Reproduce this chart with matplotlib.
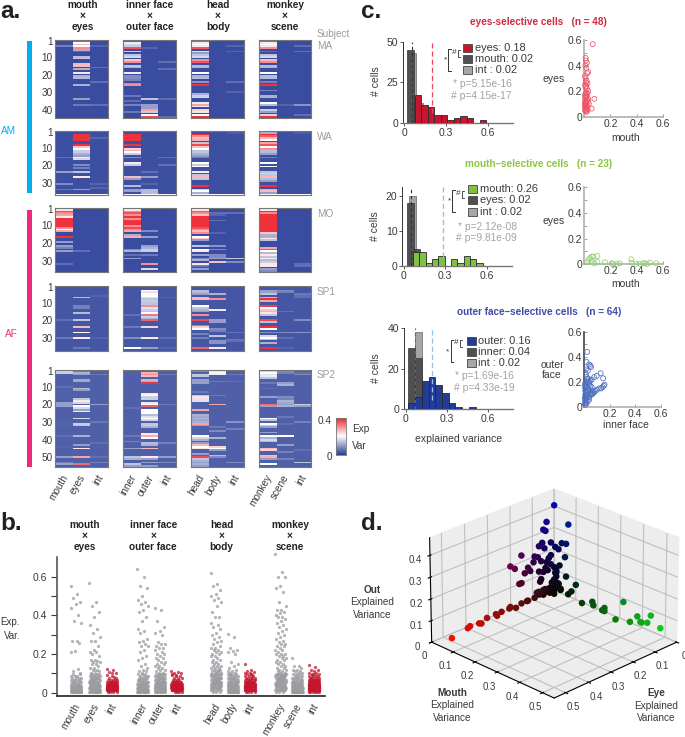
# Recreated multi-panel figure: a. heatmaps, b. strip plots, c. histograms + scatters, d. 3D scatter
import matplotlib
matplotlib.use('Agg')
import matplotlib.pyplot as plt
import numpy as np
from matplotlib.colors import LinearSegmentedColormap
from mpl_toolkits.mplot3d import Axes3D  # noqa: F401

plt.rcParams['font.family'] = ['Liberation Sans', 'DejaVu Sans']

W, H = 685, 737

# ---- panel a: explained variance per row, only rows above background are listed ----
# column order: mouth eyes int | inner outer int | head body int | monkey scene int
ma_cells = [
    {4: .07},
    {1: .36, 2: .2, 3: .26, 4: .2, 5: .3, 6: .12, 7: .38, 10: .13, 11: .14, 14: .26, 15: .26, 17: .12, 19: .22, 21: .12, 22: .13, 26: .12, 34: .1, 37: .06},
    {4: .04, 16: .05, 24: .05, 37: .05},
    {1: .38, 2: .18, 3: .16, 4: .15, 5: .35, 7: .26, 9: .14, 10: .16, 12: .25, 13: .3, 15: .14, 16: .12, 19: .22, 21: .08, 22: .08, 23: .07, 25: .1, 26: .3, 32: .06, 35: .05, 37: .07, 41: .06},
    {5: .04, 34: .14, 37: .1, 38: .1, 39: .1, 40: .28, 41: .15, 43: .2, 44: .36},
    {13: .05, 17: .05, 34: .05, 44: .05},
    {1: .36, 2: .22, 3: .2, 4: .22, 5: .35, 7: .24, 8: .1, 9: .14, 10: .16, 12: .3, 13: .35, 15: .13, 16: .12, 19: .2, 21: .12, 22: .13, 24: .09, 26: .38, 31: .12, 32: .15, 33: .16, 36: .18, 37: .28, 38: .18, 40: .24, 41: .18, 43: .2, 44: .38},
    {},
    {4: .04, 7: .04, 24: .05, 30: .04},
    {1: .36, 2: .22, 3: .2, 4: .22, 5: .3, 7: .38, 9: .14, 10: .16, 12: .26, 13: .3, 15: .13, 16: .12, 19: .2, 21: .13, 22: .13, 24: .07, 26: .38, 29: .07, 32: .12, 33: .12, 36: .2, 37: .13, 40: .15, 41: .1, 43: .16, 44: .38},
    {37: .04},
    {4: .05, 7: .05, 37: .09, 43: .05},
]
wa_cells = [
    {16: .05, 24: .1, 31: .08, 34: .06},
    {1: .14, 3: .38, 4: .38, 5: .38, 6: .38, 9: .38, 10: .25, 11: .2, 12: .15, 13: .15, 14: .12, 15: .1, 16: .22, 17: .16, 20: .08, 22: .07, 24: .14, 27: .22, 34: .1},
    {5: .04, 31: .04, 33: .04},
    {1: .14, 3: .38, 4: .38, 5: .38, 6: .38, 9: .38, 11: .24, 12: .27, 13: .2, 14: .15, 16: .08, 19: .22, 20: .15, 27: .26, 28: .1, 32: .13, 34: .1, 35: .1},
    {24: .05, 27: .1, 31: .04, 34: .13, 35: .13, 36: .13},
    {16: .05, 20: .05},
    {1: .14, 3: .38, 4: .3, 5: .26, 6: .27, 8: .14, 9: .36, 10: .25, 11: .2, 12: .14, 13: .14, 14: .12, 15: .1, 16: .36, 19: .2, 20: .15, 21: .2, 24: .22, 26: .14, 27: .26, 28: .14, 32: .38, 34: .15, 35: .2, 36: .12},
    {},
    {2: .03},
    {1: .12, 2: .12, 3: .38, 4: .34, 5: .26, 6: .2, 8: .28, 9: .35, 10: .2, 11: .3, 12: .14, 13: .13, 14: .1, 16: .36, 19: .2, 21: .2, 24: .14, 25: .25, 26: .14, 27: .26, 28: .13, 29: .1, 32: .38, 34: .13, 35: .26, 36: .1},
    {},
    {2: .03},
]
mo_cells = [
    {1: .3, 2: .22, 3: .36, 4: .3, 5: .28, 6: .22, 7: .38, 8: .38, 9: .38, 10: .38, 11: .38, 12: .3, 13: .2, 14: .28, 17: .38, 20: .1, 22: .1, 23: .07, 25: .1, 32: .05},
    {25: .05},
    {},
    {1: .3, 2: .22, 3: .3, 4: .35, 5: .3, 6: .38, 7: .3, 8: .37, 9: .38, 10: .38, 11: .3, 12: .36, 13: .3, 14: .28, 16: .12, 17: .27, 24: .08, 25: .12, 27: .05, 29: .1},
    {14: .08, 17: .1, 22: .1, 23: .12, 24: .15, 25: .15, 27: .06, 32: .3, 35: .16},
    {},
    {1: .3, 2: .22, 3: .35, 4: .3, 5: .25, 6: .38, 7: .38, 8: .38, 9: .38, 10: .38, 11: .38, 12: .35, 13: .3, 14: .26, 15: .3, 17: .2, 18: .25, 19: .1, 22: .14, 24: .2, 25: .22, 27: .1, 29: .08, 30: .12, 32: .22, 33: .06, 35: .1},
    {4: .05, 5: .04, 8: .05, 15: .04, 22: .09, 24: .08, 27: .08, 28: .08, 29: .1, 31: .26},
    {4: .05, 29: .14, 31: .08},
    {1: .28, 2: .22, 3: .38, 4: .3, 5: .38, 6: .38, 7: .38, 8: .38, 9: .38, 10: .38, 11: .38, 12: .38, 13: .38, 14: .38, 15: .25, 16: .12, 17: .12, 18: .22, 19: .14, 23: .28, 24: .35, 25: .2, 26: .13, 27: .22, 28: .14, 29: .22, 30: .13, 31: .15, 32: .22, 33: .22, 35: .1, 36: .08},
    {},
    {32: .05, 33: .05},
]
sp1_cells = [
    {20: .05, 30: .06},
    {7: .13, 12: .07, 13: .07, 16: .13, 20: .14, 24: .26, 27: .2, 30: .22, 36: .06},
    {6: .04, 30: .04},
    {17: .05, 24: .06, 30: .08, 36: .2},
    {3: .2, 4: .23, 5: .2, 6: .2, 7: .17, 8: .14, 9: .15, 10: .14, 11: .14, 12: .3, 13: .17, 14: .15, 15: .14, 16: .2, 17: .32, 18: .15, 19: .12, 20: .34, 24: .24, 30: .22, 36: .1},
    {7: .04, 30: .05, 36: .04},
    {3: .13, 4: .13, 5: .1, 7: .26, 8: .26, 12: .2, 13: .14, 14: .12, 15: .1, 17: .3, 20: .36, 23: .08, 24: .24, 25: .2, 28: .07, 30: .07, 36: .34},
    {5: .12, 8: .3, 14: .18, 20: .1, 21: .1, 25: .08, 26: .07, 29: .14, 32: .09, 33: .09, 36: .22},
    {27: .05, 31: .06, 32: .05},
    {3: .1, 4: .1, 5: .14, 7: .13, 8: .38, 9: .28, 12: .37, 13: .2, 14: .25, 15: .14, 16: .22, 17: .14, 20: .36, 21: .14, 24: .38, 25: .2, 27: .08, 29: .16, 30: .2, 31: .14, 33: .12, 36: .38},
    {3: .08, 4: .07, 15: .05, 27: .08, 30: .05, 36: .04},
    {5: .06, 6: .05, 7: .05, 20: .08, 27: .09},
]
sp2_cells = [
    {1: .25, 2: .15, 10: .05, 15: .04, 19: .1, 20: .1, 21: .1, 31: .04, 38: .05, 44: .04, 50: .1, 53: .07, 54: .1},
    {1: .06, 2: .12, 3: .1, 6: .11, 7: .11, 11: .13, 12: .1, 17: .14, 18: .22, 19: .16, 21: .2, 22: .16, 23: .1, 24: .18, 28: .16, 31: .15, 32: .14, 38: .12, 43: .1, 45: .22, 50: .28, 54: .33},
    {3: .06, 20: .1, 30: .06, 42: .05, 50: .05, 53: .07},
    {22: .05, 38: .06, 41: .07, 45: .1, 50: .14, 51: .12, 54: .14, 55: .1},
    {1: .38, 2: .27, 3: .3, 4: .26, 6: .13, 7: .12, 8: .38, 14: .22, 15: .2, 16: .15, 17: .15, 19: .18, 20: .2, 21: .34, 23: .2, 24: .2, 25: .2, 26: .13, 27: .17, 28: .2, 29: .16, 31: .14, 32: .15, 33: .12, 37: .22, 38: .27, 39: .2, 42: .13, 43: .12, 45: .26, 50: .22, 51: .1, 53: .1, 55: .1},
    {3: .06, 20: .06, 42: .07, 50: .1, 53: .08},
    {1: .08, 3: .15, 4: .14, 6: .1, 7: .1, 8: .1, 13: .06, 15: .14, 16: .18, 17: .23, 18: .17, 23: .28, 26: .12, 27: .11, 28: .12, 29: .11, 30: .12, 31: .28, 32: .1, 38: .2, 39: .16, 40: .12, 42: .1, 43: .26, 44: .2, 45: .22, 48: .1, 50: .36, 51: .14, 52: .12, 53: .1, 54: .12, 55: .1},
    {1: .22, 2: .21, 3: .18, 7: .06, 15: .06, 20: .28, 33: .06, 35: .08, 39: .12, 44: .24, 45: .2, 46: .1, 49: .28, 50: .08},
    {3: .06, 7: .05, 30: .09, 34: .07, 53: .08},
    {1: .25, 2: .2, 3: .17, 4: .18, 5: .14, 8: .06, 11: .05, 16: .1, 20: .33, 21: .1, 28: .2, 29: .14, 31: .2, 32: .15, 33: .1, 36: .1, 38: .2, 39: .12, 40: .16, 41: .13, 45: .26, 46: .24, 49: .15, 50: .27, 51: .1, 54: .2},
    {1: .08, 2: .07, 8: .1, 9: .12, 16: .08, 17: .07, 18: .12, 19: .11, 20: .1, 21: .12, 27: .06, 31: .05, 38: .2, 43: .1, 47: .07, 51: .07},
    {2: .05, 3: .08, 20: .15, 21: .1, 30: .07, 46: .05, 53: .14},
]
subject_names = ['MA', 'WA', 'MO', 'SP1', 'SP2']
subject_rows = [44, 36, 36, 37, 55]
subject_background = [.015, .018, .015, .025, .035]
subject_cells = [ma_cells, wa_cells, mo_cells, sp1_cells, sp2_cells]
subject_ticks = [[1, 10, 20, 30, 40], [1, 10, 20, 30], [1, 10, 20, 30],
                 [1, 10, 20, 30], [1, 10, 20, 30, 40, 50]]
group_titles = ['mouth\n×\neyes', 'inner face\n×\nouter face', 'head\n×\nbody', 'monkey\n×\nscene']
column_labels = ['mouth', 'eyes', 'int', 'inner', 'outer', 'int',
                 'head', 'body', 'int', 'monkey', 'scene', 'int']

# ---- panel b: tall points read one by one, the dense bottom read as counts per 0.01 bin ----
low_bins = [.005, .015, .025, .035, .045, .055, .065, .075, .085, .095]
strip_tall = [
    [.55, .51, .49, .47, .46, .44, .40, .37, .36, .27, .27, .255, .215, .21, .125, .11, .10],
    [.565, .47, .45, .42, .39, .35, .33, .31, .29, .27, .265, .24, .22, .21, .21, .2, .19, .17, .17, .165, .16, .16, .15, .15, .14, .13, .13, .12, .12, .11, .11, .10],
    [.125, .12, .105, .10, .10, .09, .08],
    [.64, .60, .55, .54, .50, .48, .47, .46, .45, .43, .42, .39, .37, .33, .32, .31, .28, .27, .26, .25, .24, .24, .22, .21, .19, .18, .17, .15, .14, .13, .12, .11, .11, .10],
    [.44, .43, .37, .34, .32, .31, .30, .26, .25, .25, .24, .23, .23, .22, .21, .20, .2, .19, .18, .18, .17, .16, .16, .15, .15, .14, .14, .13, .13, .12, .12, .11, .1, .1],
    [.11, .105, .10, .10, .09, .09],
    [.62, .56, .55, .53, .51, .50, .49, .48, .47, .45, .42, .39, .39, .36, .35, .34, .33, .31, .3, .29, .28, .27, .26, .25, .24, .23, .23, .22, .22, .21, .21, .2, .2, .19, .19, .18, .17, .17, .16, .16, .15, .15, .14, .14, .14, .13, .13, .13, .12, .12, .12, .11, .11, .11, .10, .10, .10],
    [.305, .29, .23, .22, .215, .21, .2, .16, .15, .14, .13, .12, .11, .11, .10, .10],
    [.15, .115, .11, .105, .10, .10, .09],
    [.72, .625, .6, .6, .55, .54, .52, .47, .45, .43, .43, .42, .41, .40, .39, .39, .38, .37, .36, .35, .34, .33, .32, .31, .3, .29, .28, .27, .26, .25, .25, .24, .24, .23, .22, .22, .21, .2, .2, .2, .19, .19, .18, .18, .17, .17, .16, .16, .15, .15, .14, .14, .13, .13, .12, .12, .11, .11, .1, .1],
    [.18, .14, .14, .13, .12, .12, .11, .11, .1, .1],
    [.145, .135, .12, .12, .11, .1, .1, .09],
]
strip_low_counts = [
    [14, 16, 12, 8, 6, 6, 5, 4, 3, 2],
    [12, 14, 12, 10, 8, 8, 7, 7, 6, 5],
    [4, 22, 28, 22, 14, 10, 5, 2, 1, 0],
    [12, 16, 12, 10, 8, 7, 6, 5, 4, 3],
    [10, 14, 14, 10, 9, 8, 7, 6, 6, 5],
    [4, 20, 30, 24, 14, 8, 4, 3, 2, 1],
    [3, 6, 8, 8, 8, 8, 7, 7, 6, 6],
    [14, 14, 12, 10, 8, 8, 6, 6, 5, 4],
    [4, 20, 28, 24, 16, 10, 7, 5, 3, 2],
    [3, 8, 8, 8, 8, 8, 8, 7, 7, 7],
    [18, 18, 16, 12, 10, 8, 6, 5, 4, 3],
    [6, 30, 40, 32, 22, 14, 10, 6, 4, 3],
]

# ---- panel c: histograms ----
eyes_red_counts = [0, 17, 11, 10, 5, 5, 1.5, 3, 4, 3, 0, 1.5]
eyes_dark_counts = [45, 16]
eyes_light_counts = [43, 12]
mouth_green_counts = [0, 4, 4, 1, 2, 3, 0, 2, 1, 3, 2, 1]
mouth_dark_counts = [18, 5]
mouth_light_counts = [20, 2]
outer_blue_counts = [3, 6, 14, 16, 12, 8, 3, 1, 0, 1]
outer_dark_counts = [30, 25]
outer_light_counts = [38, 4]

# ---- panel c: scatters ----
eyes_cell_x = [.064, .077, .056, .03, .01, .012, .02, .008, .015, .022, .005, .01, .018, .012, .025, .006, .014, .009, .02, .03, .016, .008, .024, .012, .004, .018, .01, .028, .006, .02, .014, .03, .008, .012, .035, .005, .01, .018, .022, .004, .008, .016, .012, .026, .006, .01, .02, .014]
eyes_cell_y = [.567, .14, .063, .35, .46, .44, .42, .4, .38, .34, .32, .3, .28, .27, .26, .25, .24, .23, .22, .2, .19, .18, .18, .17, .16, .16, .15, .14, .13, .13, .12, .12, .11, .11, .1, .1, .09, .09, .08, .08, .07, .07, .06, .06, .05, .05, .04, .04]
mouth_cell_x = [.023, .033, .043, .056, .069, .1, .077, .158, .21, .248, .27, .36, .363, .396, .427, .452, .465, .503, .55, .056, .1, .22, .48]
mouth_cell_y = [.016, .034, .047, .06, .06, .065, .008, .016, .008, .003, .008, .039, .013, .003, .003, .008, .008, .013, .008, .026, .02, .003, .003]
outer_cell_x = [.025, .02, .04, .05, .055, .015, .03, .13, .15, .16, .155, .145, .135, .12, .1, .09, .1, .08, .06, .05, .04, .03, .02, .01, .015, .02, .03, .035, .04, .05, .06, .07, .08, .07, .06, .05, .04, .03, .02, .01, .015, .02, .03, .025, .015, .01, .02, .03, .04, .05, .06, .01, .015, .02, .005, .01, .015, .005, .01, .02, .03, .04, .01, .005]
outer_cell_y = [.44, .36, .34, .33, .32, .3, .29, .27, .23, .18, .17, .16, .15, .15, .14, .13, .25, .24, .22, .21, .2, .2, .19, .19, .26, .24, .23, .22, .18, .17, .16, .13, .12, .11, .1, .1, .14, .15, .17, .18, .16, .14, .13, .12, .11, .1, .09, .08, .08, .12, .11, .08, .07, .06, .07, .05, .04, .03, .02, .03, .05, .06, .13, .16]

# ---- panel d: eye, mouth, out explained variance per cell ----
eye_values = [.49, .42, .41, .37, .36, .335, .295, .29, .27, .235, .23, .205, .18, .155, .15, .12, .11, .10, .09, .08, .07,
              .02, .02, .02, .02, .02, .02, .02, .02, .02, .02, .02, .02, .02, .02,
              .02, 0, .035, .05, .04, .07, .055, .045, .015, 0, 0, 0, 0, 0, .09, .075, .095, .06, .015, .025, .035, 0, 0, 0, 0, 0, 0, 0,
              .15, .2, .18, .135, .12, .11, .16, .15, .06, .065, .07, .05, .03, .04,
              .06, .05, .04, .03, .02, .01, .01, .02, .03, .04, .05, .06, .07, .08, .01, .02, .01, 0, .01, .02, .01, 0, .015, .025, .03, .01, .02]
mouth_values = [.03, .03, .03, .03, .03, .03, .03, .03, .03, .03, .03, .03, .03, .03, .03, .03, .03, .03, .03, .03, .03,
                .148, .195, .2, .24, .25, .25, .30, .334, .364, .396, .41, .415, .44, .455,
                .497, .065, 0, 0, 0, 0, 0, 0, 0, .035, .055, .005, .02, .05, 0, 0, 0, 0, 0, 0, 0, .025, .055, .1, .08, .065, .03, .02,
                0, 0, 0, 0, 0, 0, 0, 0, 0, 0, 0, 0, 0, 0,
                .01, .01, .02, .01, .02, .03, .01, .01, .02, .005, .01, .02, .005, .01, .04, .03, .02, .01, .03, .02, .01, .01, .02, .01, .03, .005, .02]
out_values = [.005, .02, .025, .02, .015, .03, .03, .02, .03, .03, .035, .02, .03, .03, .03, .03, .05, .05, .04, .05, .05,
              .013, .04, .025, .02, .02, .035, .003, .1, .02, .06, .04, .04, .05, .09,
              .05, .34, .34, .31, .3, .24, .25, .22, .235, .24, .245, .21, .205, .18, .2, .19, .175, .165, .175, .165, .15, .13, .09, .07, .03, .01, .015, .04,
              .23, .2, .18, .14, .16, .14, .1, .1, .08, .07, .12, .11, .11, .125,
              .01, .02, .015, .03, .02, .03, .05, .05, .06, .02, .03, .04, .015, .02, .03, .06, .08, .1, .05, .07, .12, .09, .1, .14, .01, .03, .42]


fig = plt.figure(figsize=(W / 100, H / 100), dpi=100)


def px_axes(x0, y0, x1, y1, **kw):
    return fig.add_axes([x0 / W, 1 - y1 / H, (x1 - x0) / W, (y1 - y0) / H], **kw)


# overlay in pixel coordinates for text and decoration
ov = fig.add_axes([0, 0, 1, 1], zorder=10)
ov.set_xlim(0, W)
ov.set_ylim(H, 0)
ov.axis('off')
ov.patch.set_alpha(0)

DARK = '#3a3a3a'
GRAY = '#8e9094'

# panel letters
for letter, x, y in [('a.', 0, 17.5), ('b.', 0, 530.5), ('c.', 361, 17.5), ('d.', 361, 530.5)]:
    ov.text(x, y, letter, fontsize=17.5, fontweight='bold', color='#222222', va='baseline')

# ---------------- panel a ----------------
cmap = LinearSegmentedColormap.from_list('expvar', ['#2b3f98', '#ffffff', '#ee1c25'])
group_left = [55, 123, 191, 258.5]
column_w = 52.5 / 3
subject_y = [(40.5, 118), (131, 194.5), (208.5, 272.5), (286, 350.7), (370, 467)]
subject_label_y = [46, 136.7, 214.3, 291.7, 375]

for s, (y0, y1) in enumerate(subject_y):
    nrows = subject_rows[s]
    for g, gx in enumerate(group_left):
        mat = np.full((nrows, 3), subject_background[s])
        for c in range(3):
            for row, val in subject_cells[s][g * 3 + c].items():
                mat[row - 1, c] = val
        ax = px_axes(gx, y0, gx + 52.5, y1)
        ax.imshow(mat, cmap=cmap, vmin=0, vmax=.4, aspect='auto', interpolation='nearest')
        ax.set_xticks([])
        if g == 0:
            ax.set_yticks([t - 1 for t in subject_ticks[s]])
            ax.set_yticklabels(subject_ticks[s], fontsize=7.2, color=DARK)
            ax.tick_params(axis='y', length=0, pad=1.5)
        else:
            ax.set_yticks([])
        for sp in ax.spines.values():
            sp.set_color('#777777')
            sp.set_linewidth(.8)
    ov.text(317, subject_label_y[s], subject_names[s], fontsize=7.2, color='#9a9a9a', va='center')
ov.text(316.5, 34.3, 'Subject', fontsize=7.2, color='#9a9a9a', va='center')

for g, cx in enumerate([83, 150, 218, 285]):
    for line, yy in zip(group_titles[g].split('\n'), [4.9, 15.7, 26.7]):
        ov.text(cx, yy, line, fontsize=7.2, fontweight='bold', color='#222222', ha='center', va='center')

for g, gx in enumerate(group_left):
    for c in range(3):
        ov.text(gx + column_w * (c + .5) + 2, 475.5, column_labels[g * 3 + c], rotation=60, fontsize=7.2,
                color=DARK, ha='right', va='center', rotation_mode='anchor')

ov.add_patch(plt.Rectangle((26.7, 40.7), 5.6, 152.6, color='#00aeef', lw=0))
ov.add_patch(plt.Rectangle((26.7, 210), 5.6, 257.3, color='#ee2a7b', lw=0))
ov.text(9, 130.7, 'AM', color='#00aeef', fontsize=7.2, ha='center', va='center')
ov.text(11, 334, 'AF', color='#ee2a7b', fontsize=7.2, ha='center', va='center')

cax = px_axes(336, 417.7, 346, 455.3)
cax.imshow(np.linspace(1, 0, 64)[:, None], cmap=cmap, aspect='auto', vmin=0, vmax=1)
cax.set_xticks([])
cax.set_yticks([])
for sp in cax.spines.values():
    sp.set_color('#777777')
    sp.set_linewidth(.6)
ov.text(332, 420.7, '0.4', fontsize=7.2, color=DARK, ha='right', va='center')
ov.text(332, 457, '0', fontsize=7.2, color=DARK, ha='right', va='center')
ov.text(352, 429.3, 'Exp', fontsize=7.2, color=DARK, va='center')
ov.text(352, 446, 'Var', fontsize=7.2, color=DARK, va='center')

# ---------------- panel b ----------------
strip_x = [76, 94.7, 112, 142.7, 160, 176.7, 216, 233, 250, 280.7, 297.3, 314]
strip_colors = ['#9a9ca0', '#9a9ca0', '#c4162f'] * 4
bx = px_axes(57, 557, 325, 696)
bx.set_xlim(57, 325)
bx.set_ylim((692.7 - 696) / 193.3, (692.7 - 557) / 193.3)
for i, cx in enumerate(strip_x):
    vals = np.concatenate([strip_tall[i], np.repeat(low_bins, strip_low_counts[i])])
    # spread within the strip, no data in it
    spread = ((np.arange(len(vals)) * .618034) % 1 - .5) * 11
    bx.scatter(cx + spread, vals, s=5.5, color=strip_colors[i], alpha=.75, lw=0, clip_on=False)
bx.set_yticks([0, .2, .4, .6])
bx.set_yticks([.1, .3, .5], minor=True)
bx.set_yticklabels(['0', '0.2', '0.4', '0.6'], fontsize=7.5, color=DARK)
bx.tick_params(axis='y', which='both', length=4, width=.8, color=DARK, pad=3)
bx.set_xticks([])
bx.spines[['top', 'right']].set_visible(False)
bx.spines['left'].set_color('#555555')
bx.spines['left'].set_linewidth(1.2)
bx.spines['bottom'].set_color('#222222')
bx.spines['bottom'].set_linewidth(1.2)
for g, cx in enumerate([85, 153.3, 221.7, 290]):
    for line, yy in zip(group_titles[g].split('\n'), [525, 536, 546.7]):
        ov.text(cx, yy, line, fontsize=7.2, fontweight='bold', color='#222222', ha='center', va='center')
for i, cx in enumerate(strip_x):
    ov.text(cx + 2, 704, column_labels[i], rotation=60, fontsize=7.2, color=DARK,
            ha='right', va='center', rotation_mode='anchor')
ov.text(20, 621.7, 'Exp.', fontsize=7, color=DARK, ha='right', va='center')
ov.text(20, 636, 'Var.', fontsize=7, color=DARK, ha='right', va='center')


# ---------------- panel c ----------------
def hist_panel(box, xlim, ylim, yticks, main, dark, light, main_color, starts, width, dash_x, dash_colors, ylabel_xy):
    ax = px_axes(*box)
    ax.set_xlim(*xlim)
    ax.set_ylim(*ylim)
    ax.bar(starts[1] + np.arange(len(light)) * width, light, width=width, align='edge',
           color='#a5a6a8', edgecolor='#666666', lw=.5, zorder=1)
    ax.bar(starts[0] + np.arange(len(dark)) * width, dark, width=width, align='edge',
           color='#4f5052', edgecolor='#333333', lw=.5, zorder=2)
    ax.bar(starts[2] + np.arange(len(main)) * width, main, width=width, align='edge',
           color=main_color, edgecolor='#2a2a2a', lw=.6, zorder=3)
    ax.vlines(dash_x[0], 0, ylim[1], colors=dash_colors[0], linestyles=(0, (3, 2.5)), lw=.8, zorder=4)
    ax.vlines(dash_x[1], ylim[1] * .12, ylim[1], colors=dash_colors[1], linestyles=(0, (4, 2.5)), lw=.9, zorder=4)
    ax.set_xticks([0, .3, .6])
    ax.set_xticklabels(['0', '0.3', '0.6'], fontsize=7.5, color=DARK)
    ax.set_yticks(yticks)
    ax.set_yticklabels(yticks, fontsize=7.5, color=DARK)
    ax.tick_params(length=2, width=.6, pad=1.5, color=DARK)
    ax.spines[['top', 'right']].set_visible(False)
    ax.spines['bottom'].set_color('#777777')
    ax.spines['bottom'].set_linewidth(1)
    ax.spines['left'].set_color('#333333')
    ax.spines['left'].set_linewidth(.7)
    ov.text(ylabel_xy[0], ylabel_xy[1], '# cells', rotation=90, fontsize=7.5, color=DARK, ha='center', va='center')


def legend_block(sq_x, text_x, ys, labels, colors, br_x, br_y0, br_y1, hash_x, hash_y, star_xy, p_right, p_ys, p_texts):
    for yy, lab, col in zip(ys, labels, colors):
        ov.add_patch(plt.Rectangle((sq_x, yy - 4), 9, 8, facecolor=col, edgecolor='#444444', lw=.6))
        ov.text(text_x, yy, lab, fontsize=7.9, color=DARK, va='center')
    ov.plot([br_x + 2.5, br_x, br_x, br_x + 2.5], [br_y0, br_y0, br_y1, br_y1], color='#333333', lw=.7)
    ov.plot([hash_x + 8, hash_x + 6, hash_x + 6, hash_x + 8], [hash_y - 3.5, hash_y - 3.5, hash_y + 3.5, hash_y + 3.5],
            color='#333333', lw=.6)
    ov.text(hash_x + 2, hash_y - 1, '#', fontsize=6, color='#333333', ha='center', va='center')
    ov.text(star_xy[0], star_xy[1], '*', fontsize=6, color='#333333', ha='center', va='center')
    for yy, t in zip(p_ys, p_texts):
        ov.text(p_right, yy, t, fontsize=7.4, color='#a2a2a2', ha='right', va='center')


def scatter_panel(box, xlim, ylim, xs, ys, color, ylabel, xlabel, ylabel_xy, xlabel_xy, left_color):
    ax = px_axes(*box)
    ax.set_xlim(*xlim)
    ax.set_ylim(*ylim)
    ax.scatter(xs, ys, s=13, facecolors='none', edgecolors=color, lw=.55, clip_on=False, zorder=3)
    ax.set_xticks([0, .2, .4, .6])
    ax.set_xticklabels(['', '0.2', '0.4', '0.6'], fontsize=7.5, color=DARK)
    ax.set_yticks([0, .1, .2, .3, .4, .5, .6])
    ax.set_yticklabels(['0', '', '0.2', '', '0.4', '', '0.6'], fontsize=7.5, color=DARK)
    ax.tick_params(length=2, width=.5, pad=1.5, direction='in', color='#777777')
    ax.spines[['top', 'right']].set_visible(False)
    ax.spines['left'].set_color(left_color)
    ax.spines['left'].set_linewidth(1.2)
    ax.spines['bottom'].set_color('#b0b0b0')
    ax.spines['bottom'].set_linewidth(1.2)
    ov.text(ylabel_xy[0], ylabel_xy[1], ylabel, fontsize=7.5, color=DARK, ha='center', va='center', linespacing=1.05)
    ov.text(xlabel_xy[0], xlabel_xy[1], xlabel, fontsize=7.5, color=DARK, ha='center', va='center')


RED, GREEN, BLUE = '#c4162f', '#7fc241', '#243a97'
ov.text(538.5, 22.3, 'eyes-selective cells   (n = 48)', fontsize=7.2, fontweight='bold', color='#cf2a3f', ha='center', va='center')
ov.text(539, 164.3, 'mouth–selective cells   (n = 23)', fontsize=7.2, fontweight='bold', color='#8cc63f', ha='center', va='center')
ov.text(539, 311.7, 'outer face–selective cells   (n = 64)', fontsize=7.2, fontweight='bold', color='#3f4ca5', ha='center', va='center')

hist_panel((403.3, 41.5, 512.7, 122.7), (-.007, .78), (0, 50.4), [0, 25, 50],
           eyes_red_counts, eyes_dark_counts, eyes_light_counts, RED,
           (.02, .04, .03), .0465, (.058, .2), ('#333333', '#ee4455'), (376, 81))
hist_panel((402.3, 187.3, 512.3, 266.3), (-.012, .786), (0, 22.6), [0, 10, 20],
           mouth_green_counts, mouth_dark_counts, mouth_light_counts, GREEN,
           (.025, .04, .02), .046, (.05, .283), ('#333333', '#7fcfa0'), (375, 226))
hist_panel((404.3, 328, 512.7, 409.3), (-.01, .78), (0, 40), [0, 20, 40],
           outer_blue_counts, outer_dark_counts, outer_light_counts, BLUE,
           (.02, .07, .02), .049, (.07, .19), ('#666666', '#8fc4e8'), (376, 367.7))
ov.text(458.3, 438.7, 'explained variance', fontsize=7.5, color=DARK, ha='center', va='center')

legend_block(463, 474.7, [47.5, 58.5, 69.5], ['eyes: 0.18', 'mouth: 0.02', 'int : 0.02'], [RED, '#4f5052', '#a5a6a8'],
             448.5, 48.5, 70.5, 452.5, 53.5, (446, 60), 511.7, [84.3, 95.7], ['* p=5.15e-16', '# p=4.15e-17'])
legend_block(467.7, 480.3, [189.3, 200.3, 212.3], ['mouth: 0.26', 'eyes: 0.02', 'int : 0.02'], [GREEN, '#4f5052', '#a5a6a8'],
             452.5, 189.5, 211.5, 456.5, 194.5, (450, 201), 516.7, [227.3, 238.3], ['* p=2.12e-08', '# p=9.81e-09'])
legend_block(466.7, 478, [340.7, 352, 363.3], ['outer: 0.16', 'inner: 0.04', 'int : 0.02'], [BLUE, '#4f5052', '#a5a6a8'],
             450.7, 340, 361.5, 454.5, 343.5, (448, 351.5), 514.3, [376, 387.7], ['* p=1.69e-16', '# p=4.33e-19'])

scatter_panel((584.3, 40, 662.7, 116.7), (0, .6), (0, .6), eyes_cell_x, eyes_cell_y, '#ee5566', 'eyes', 'mouth',
              (554, 79), (626, 137.5), '#b0b0b0')
scatter_panel((584.3, 187.3, 662.7, 264.3), (0, .6), (0, .6), mouth_cell_x, mouth_cell_y, '#8fcf70', 'eyes', 'mouth',
              (554, 221), (626, 284.3), '#b0b0b0')
scatter_panel((584, 331.7, 660.7, 407.3), (0, .6), (0, .6), outer_cell_x, outer_cell_y, '#4f6fc0', 'outer\nface', 'inner face',
              (552, 370), (626, 425), '#444444')

# ---------------- panel d ----------------
d3 = fig.add_axes([398 / W, 1 - 729 / H, 305 / W, 270 / H], projection='3d')
d3.patch.set_alpha(0)
d3.view_init(elev=25, azim=45)
d3.set_proj_type('persp', focal_length=2)
eye = np.array(eye_values)
mouth = np.array(mouth_values)
out = np.array(out_values)
rgb = np.clip(np.c_[eye * 2, mouth * 1.6, out * 1.6], 0, 1)
d3.scatter(eye, mouth, out, c=rgb, s=22, depthshade=False, alpha=1, lw=0)
d3.set_xlim(0, .55)
d3.set_ylim(0, .55)
d3.set_zlim(0, .48)
d3.set_xticks([0, .1, .2, .3, .4, .5])
d3.set_yticks([0, .1, .2, .3, .4, .5])
d3.set_zticks([0, .1, .2, .3, .4])
d3.set_xticklabels(['0', '0.1', '0.2', '0.3', '0.4', '0.5'], fontsize=7, color=DARK)
d3.set_yticklabels(['0', '0.1', '0.2', '0.3', '0.4', '0.5'], fontsize=7, color=DARK)
d3.set_zticklabels(['0', '0.1', '0.2', '0.3', '0.4'], fontsize=7, color=DARK)
for axis in (d3.xaxis, d3.yaxis, d3.zaxis):
    axis.set_pane_color((.93, .93, .93, 1))
    axis._axinfo['grid']['color'] = (.75, .75, .75, 1)
    axis._axinfo['grid']['linewidth'] = .8
    axis.line.set_linewidth(.8)
d3.tick_params(pad=-2)
d3.set_box_aspect((1, 1, .66), zoom=.98)

for x, y, head in [(372, 590, 'Out'), (452.3, 693, 'Mouth'), (656, 693.3, 'Eye')]:
    ov.text(x, y, head, fontsize=7.2, fontweight='bold', color=DARK, ha='center', va='center')
    ov.text(x, y + 12.3, 'Explained', fontsize=7.2, color=DARK, ha='center', va='center')
    ov.text(x, y + 24.6, 'Variance', fontsize=7.2, color=DARK, ha='center', va='center')

plt.savefig('out.png', dpi=100)
